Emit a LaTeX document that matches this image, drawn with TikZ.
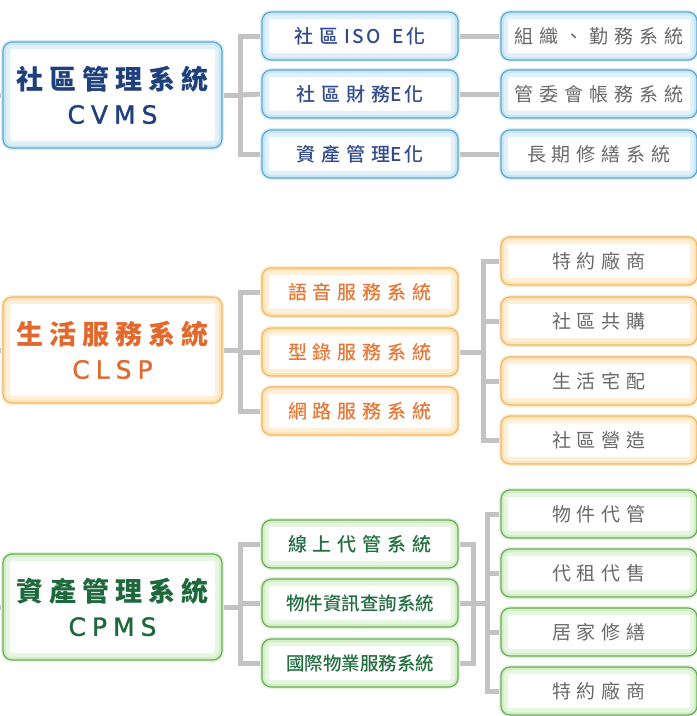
\documentclass[tikz,border=0pt]{standalone}
\usepackage{fontspec}
\setmainfont{Noto Sans CJK TC}
\newfontfamily\cjkmed{Noto Sans CJK TC Medium}
\newfontfamily\lat{DejaVu Sans}[FakeBold=1.2]
\usetikzlibrary{calc}
\pgfdeclarelayer{background}
\pgfsetlayers{background,main}
\definecolor{Bedge}{RGB}{95,170,205}
\definecolor{Bglow}{RGB}{200,230,245}
\definecolor{Oedge}{RGB}{240,185,105}
\definecolor{Oglow}{RGB}{253,228,185}
\definecolor{Gedge}{RGB}{105,175,90}
\definecolor{Gglow}{RGB}{212,238,200}
\definecolor{Btitle}{RGB}{30,65,125}
\definecolor{Otitle}{RGB}{225,105,45}
\definecolor{Gtitle}{RGB}{30,105,60}
\definecolor{Btext}{RGB}{50,75,140}
\definecolor{Otext}{RGB}{230,120,55}
\definecolor{Gtext}{RGB}{35,110,65}
\definecolor{graytext}{RGB}{105,105,105}
\definecolor{lnk}{RGB}{195,195,195}
\makeatletter
\newcommand\spc[2]{\def\spc@gap{#1}\let\spc@first\relax
  \@tfor\spc@t:=#2\do{\spc@first\spc@t\let\spc@first\spc@sep}}
\def\spc@sep{\hspace{\spc@gap}}
\makeatother
\begin{document}
\begin{tikzpicture}[x=1pt,y=-1pt,
  link/.style={draw=lnk, line width=5pt},
  box/.style={rounded corners=9pt, inner sep=0pt, line width=1.2pt, fill=white, draw=#1edge,
    preaction={draw=#1glow!70, line width=4pt},
    path picture={
      \draw[#1glow!55, line width=14pt, rounded corners=9pt]
        (path picture bounding box.south west) rectangle (path picture bounding box.north east);
      \draw[#1glow, line width=6pt, rounded corners=9pt]
        (path picture bounding box.south west) rectangle (path picture bounding box.north east);}},
  mainbox/.style={box=#1, minimum width=219pt, minimum height=106pt, align=center, text=#1title},
  midbox/.style={box=#1, minimum width=196pt, minimum height=48pt, text=#1text,
    font=\cjkmed\fontsize{19}{22}\selectfont},
  endbox/.style={box=#1, minimum width=196pt, minimum height=48pt, text=graytext,
    font=\fontsize{19}{22}\selectfont},
]
\useasboundingbox (0,0) rectangle (697,716);

% ---------- CVMS ----------
\node[mainbox=B] (cvms) at (112.5,95)
  {{\fontsize{27}{30}\selectfont\bfseries\spc{6pt}{社區管理系統}}\\[12pt]
   {\lat\fontsize{25}{28}\selectfont\spc{6pt}{CVMS}}};
\node[midbox=B] (b1) at (360,36) {社\hspace{6pt}區\hspace{6pt}I\hspace{2pt}S\hspace{2pt}O\hspace{12pt}E\hspace{2pt}化};
\node[midbox=B] (b2) at (360,94) {\spc{6pt}{社區財務}E\hspace{2pt}化};
\node[midbox=B] (b3) at (360,154) {\spc{6pt}{資產管理}E\hspace{2pt}化};
\node[endbox=B] (br1) at (599,36) {\spc{6pt}{組織、勤務系統}};
\node[endbox=B] (br2) at (599,94) {\spc{6pt}{管委會帳務系統}};
\node[endbox=B] (br3) at (599,154) {\spc{6pt}{長期修繕系統}};
\coordinate (j1) at (240,95);
\coordinate (s1) at (0,95);

% ---------- CLSP ----------
\node[mainbox=O] (clsp) at (112.5,350)
  {{\fontsize{27}{30}\selectfont\bfseries\spc{6pt}{生活服務系統}}\\[12pt]
   {\lat\fontsize{25}{28}\selectfont\spc{6pt}{CLSP}}};
\node[midbox=O] (o1) at (360,292) {\spc{6pt}{語音服務系統}};
\node[midbox=O] (o2) at (360,352) {\spc{6pt}{型錄服務系統}};
\node[midbox=O] (o3) at (360,411) {\spc{6pt}{網路服務系統}};
\node[endbox=O] (or1) at (599,261) {\spc{6pt}{特約廠商}};
\node[endbox=O] (or2) at (599,321) {\spc{6pt}{社區共購}};
\node[endbox=O] (or3) at (599,381) {\spc{6pt}{生活宅配}};
\node[endbox=O] (or4) at (599,440) {\spc{6pt}{社區營造}};
\coordinate (j2) at (240,350);
\coordinate (s2) at (0,350);
\coordinate (k2) at (483,352);

% ---------- CPMS ----------
\node[mainbox=G] (cpms) at (112.5,607)
  {{\fontsize{27}{30}\selectfont\bfseries\spc{6pt}{資產管理系統}}\\[12pt]
   {\lat\fontsize{25}{28}\selectfont\spc{6pt}{CPMS}}};
\node[midbox=G] (g1) at (360,544) {\spc{6pt}{線上代管系統}};
\node[midbox=G] (g2) at (360,603) {\fontsize{18.5}{22}\selectfont 物件資訊查詢系統};
\node[midbox=G] (g3) at (360,663) {\fontsize{18.5}{22}\selectfont 國際物業服務系統};
\node[endbox=G] (gr1) at (599,514) {\spc{6pt}{物件代管}};
\node[endbox=G] (gr2) at (599,573) {\spc{6pt}{代租代售}};
\node[endbox=G] (gr3) at (599,632) {\spc{6pt}{居家修繕}};
\node[endbox=G] (gr4) at (599,691) {\spc{6pt}{特約廠商}};
\coordinate (j3) at (240,607);
\coordinate (s3) at (0,607);
\coordinate (m1) at (473,603);
\coordinate (m2) at (487,603);

\begin{pgfonlayer}{background}
  % top
  \draw[link] (s1) -- (cvms.west);
  \draw[link] (cvms.east) -- (j1);
  \draw[link] (b1.west) -| (j1) |- (b3.west);
  \draw[link] (j1) -- (b2.west);
  \draw[link] (b1.east) -- (br1.west);
  \draw[link] (b2.east) -- (br2.west);
  \draw[link] (b3.east) -- (br3.west);
  % middle
  \draw[link] (s2) -- (clsp.west);
  \draw[link] (clsp.east) -- (j2);
  \draw[link] (o1.west) -| (j2) |- (o3.west);
  \draw[link] (j2) -- (o2.west -| j2) -- (o2.west);
  \draw[link] (o2.east) -- (k2);
  \draw[link] (or1.west) -| (k2) |- (or4.west);
  \draw[link] (or2.west) -- (or2.west -| k2);
  \draw[link] (or3.west) -- (or3.west -| k2);
  % bottom
  \draw[link] (s3) -- (cpms.west);
  \draw[link] (cpms.east) -- (j3);
  \draw[link] (g1.west) -| (j3) |- (g3.west);
  \draw[link] (j3) -- (g2.west -| j3) -- (g2.west);
  \draw[link] (g1.east) -| (m1) |- (g3.east);
  \draw[link] (g2.east) -- (m1) -- (m2);
  \draw[link] (gr1.west) -| (m2) |- (gr4.west);
  \draw[link] (gr2.west) -- (gr2.west -| m2);
  \draw[link] (gr3.west) -- (gr3.west -| m2);
\end{pgfonlayer}
\end{tikzpicture}
\end{document}
